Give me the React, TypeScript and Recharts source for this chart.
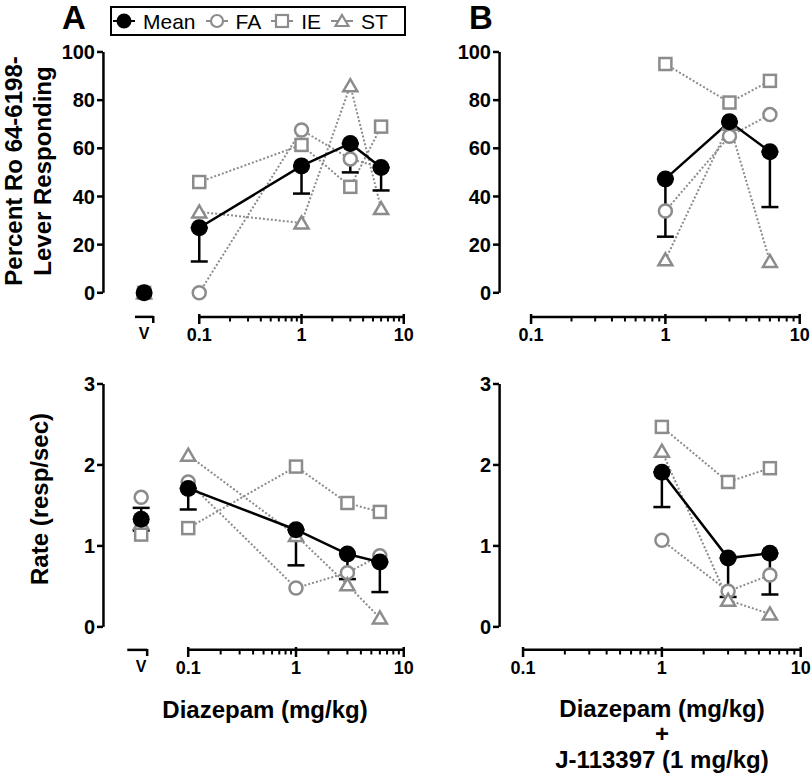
import React from "react";
import { ComposedChart, Line, XAxis, YAxis, ErrorBar, ReferenceLine, Legend, Label } from "recharts";

const FONT = '"Liberation Sans", Arial, Helvetica, sans-serif';
const GREY = "#8c8c8c";
const W = 812;
const H = 777;

// doses (mg/kg)
const dosesA = [0.1, 1, 3, 6];
const dosesB = [1, 3, 6];

// log axis ticks
const majorTicks = [0.1, 1, 10];
const minorTicks = [0.2, 0.3, 0.4, 0.5, 0.6, 0.7, 0.8, 0.9, 2, 3, 4, 5, 6, 7, 8, 9];
const pctTicks = [0, 20, 40, 60, 80, 100];
const rateTicks = [0, 1, 2, 3];

// series order: Mean, FA, IE, ST
const seriesNames = ["Mean", "FA", "IE", "ST"];

// A: % Ro 64-6198-lever responding, diazepam alone
const pctMeanA = [27, 52.7, 62, 52];
const pctSemA = [14, 11.5, 12, 9.5];
const pctFaA = [0, 67.6, 55.6, 52];
const pctIeA = [46, 61.4, 44, 69];
const pctStA = [33.6, 29, 86, 35];
const vehPct = [0, 0, 0, 0]; // Mean, FA, IE, ST

// B: % drug-lever responding, diazepam + J-113397
const pctMeanB = [47.3, 71, 58.6];
const pctSemB = [24, 3, 23];
const pctFaB = [34, 65, 74];
const pctIeB = [95, 79, 88];
const pctStB = [13.7, 70, 13];

// A: response rate (resp/sec)
const rateMeanA = [1.71, 1.2, 0.9, 0.8];
const rateSemA = [0.26, 0.44, 0.31, 0.37];
const rateFaA = [1.79, 0.48, 0.67, 0.88];
const rateIeA = [1.22, 1.98, 1.53, 1.42];
const rateStA = [2.12, 1.13, 0.52, 0.11];
const vehRate = [1.33, 1.6, 1.14, 1.28]; // Mean, FA, IE, ST
const vehRateSem = 0.14;

// B: response rate (resp/sec)
const rateMeanB = [1.91, 0.85, 0.91];
const rateSemB = [0.43, 0.48, 0.51];
const rateFaB = [1.07, 0.44, 0.64];
const rateIeB = [2.47, 1.79, 1.96];
const rateStB = [2.17, 0.33, 0.16];

type Row = Record<string, any>;

function buildRows(
  doses: number[], mean: number[], sem: number[], fa: number[], ie: number[], st: number[],
  veh?: { x: number; vals: number[]; sem: number }
): Row[] {
  const rows: Row[] = [];
  if (veh) {
    rows.push({
      x: veh.x,
      vMean: veh.vals[0],
      vFa: veh.vals[1],
      vIe: veh.vals[2],
      vSt: veh.vals[3],
      vSem: veh.sem ? [veh.sem, veh.sem] : null,
    });
  }
  doses.forEach((d, i) => {
    rows.push({ x: d, mean: mean[i], sem: [sem[i], 0], fa: fa[i], ie: ie[i], st: st[i] });
  });
  return rows;
}

const mkDot = (shape: "mean" | "circle" | "square" | "triangle") => (p: any) => {
  const { cx, cy, index } = p;
  if (cx == null || cy == null || Number.isNaN(cy)) return <g key={`e${index}`} />;
  if (shape === "mean") return <circle key={index} cx={cx} cy={cy} r={8.5} fill="#000" stroke="none" />;
  if (shape === "circle")
    return <circle key={index} cx={cx} cy={cy} r={6.5} fill="#fff" stroke={GREY} strokeWidth={2.5} />;
  if (shape === "square")
    return <rect key={index} x={cx - 6} y={cy - 6} width={12} height={12} fill="#fff" stroke={GREY} strokeWidth={2.5} />;
  return (
    <path key={index} d={`M${cx},${cy - 6.5}L${cx + 7},${cy + 5.5}L${cx - 7},${cy + 5.5}Z`}
      fill="#fff" stroke={GREY} strokeWidth={2.5} strokeLinejoin="miter" />
  );
};

const legendIcon = (name: string) => {
  const col = name === "Mean" ? "#000" : GREY;
  let mark: React.ReactNode;
  if (name === "Mean") mark = <circle cx={11} cy={11} r={7.5} fill="#000" />;
  else if (name === "FA") mark = <circle cx={11} cy={11} r={6} fill="#fff" stroke={GREY} strokeWidth={2.2} />;
  else if (name === "IE") mark = <rect x={5} y={5} width={12} height={12} fill="#fff" stroke={GREY} strokeWidth={2.2} />;
  else mark = <path d="M11,5L17.5,16L4.5,16Z" fill="#fff" stroke={GREY} strokeWidth={2.2} />;
  return (
    <svg width={22} height={22} style={{ display: "block" }}>
      <line x1={0} x2={22} y1={11} y2={11} stroke={col} strokeWidth={2} />
      {mark}
    </svg>
  );
};

const renderLegend = (props: any) => {
  const items = [...(props.payload || [])]
    .filter((it: any) => seriesNames.includes(it.value))
    .sort((a: any, b: any) => seriesNames.indexOf(a.value) - seriesNames.indexOf(b.value));
  return (
    <div
      style={{
        display: "flex", alignItems: "center", boxSizing: "border-box", width: 296, height: 30,
        border: "2.5px solid #000", padding: "0 0 0 1px", fontFamily: FONT, fontSize: 21, color: "#000",
        background: "#fff",
      }}
    >
      {items.map((it: any) => (
        <div key={it.value} style={{ display: "flex", alignItems: "center", marginRight: 10 }}>
          {legendIcon(it.value)}
          <span style={{ marginLeft: 8, lineHeight: 1 }}>{it.value}</span>
        </div>
      ))}
    </div>
  );
};

const titleStyle: React.CSSProperties = { fontFamily: FONT, fontSize: 24, fontWeight: 700, fill: "#000" };

function makeXTick(axisY: number, vehLabel?: number, vehEnd?: number) {
  return (props: any) => {
    const { x, payload } = props;
    const v = payload.value;
    if (vehLabel !== undefined && v === vehLabel)
      return (
        <text x={x} y={axisY + 22} textAnchor="middle" style={{ fontFamily: FONT, fontSize: 16, fontWeight: 700 }}>
          V
        </text>
      );
    if (vehEnd !== undefined && v === vehEnd)
      return <line x1={x} x2={x} y1={axisY - 1} y2={axisY + 6} stroke="#000" strokeWidth={2.5} />;
    const major = majorTicks.includes(v);
    return (
      <g>
        <line x1={x} x2={x} y1={major ? axisY - 3 : axisY} y2={axisY + (major ? 7 : 4.5)} stroke="#000"
          strokeWidth={major ? 2.5 : 2} />
        {major && (
          <text x={x} y={axisY + 24} textAnchor="middle" style={{ fontFamily: FONT, fontSize: 18, fontWeight: 700 }}>
            {String(v)}
          </text>
        )}
      </g>
    );
  };
}

type PanelCfg = {
  rows: Row[];
  plot: { l: number; r: number; t: number; b: number };
  x01: number; // pixel of dose 0.1
  yDomain: [number, number];
  yTicks: number[];
  veh?: { label: number; l: number; r: number };
  legend?: boolean;
  yTitle?: React.ReactNode;
  xTitle: React.ReactNode;
};

const YW = 60;
const XH = 40;

function Panel({ cfg }: { cfg: PanelCfg }) {
  const { plot, x01 } = cfg;
  const decade = (plot.r - x01) / 2;
  const xMin = Math.pow(10, -1 - (x01 - plot.l) / decade);
  const xMax = 10.05;
  const yMin = cfg.yDomain[0];
  const yTop = cfg.yDomain[1];
  const ticks = cfg.veh
    ? [cfg.veh.label, cfg.veh.r, ...majorTicks, ...minorTicks]
    : [...majorTicks, ...minorTicks];
  const dotted = { strokeDasharray: "2 2", strokeWidth: 2, stroke: GREY };
  const axisX = xMin * 1.01;
  return (
    <div style={{ position: "absolute", left: 0, top: 0 }}>
      <ComposedChart
        width={W}
        height={H}
        data={cfg.rows}
        margin={{ left: plot.l - YW, right: W - plot.r - 1, top: plot.t - 4, bottom: H - plot.b - XH - 2 }}
      >
        <XAxis
          dataKey="x"
          type="number"
          scale="log"
          domain={[xMin, xMax]}
          allowDataOverflow
          ticks={ticks}
          interval={0}
          axisLine={false}
          tickLine={false}
          height={XH}
          tick={makeXTick(plot.b, cfg.veh?.label, cfg.veh?.r)}
        >
          <Label content={() => cfg.xTitle} />
        </XAxis>
        <YAxis
          type="number"
          domain={[yMin - (yTop - yMin) * 0.008, yTop + (yTop - yMin) * 0.015]}
          allowDataOverflow
          ticks={cfg.yTicks}
          interval={0}
          width={YW}
          axisLine={false}
          tickSize={6}
          tickMargin={2}
          tickLine={{ stroke: "#000", strokeWidth: 2.5 }}
          tick={{ fill: "#000", fontSize: 20, fontWeight: 700, fontFamily: FONT }}
        >
          {cfg.yTitle ? <Label content={() => cfg.yTitle} /> : null}
        </YAxis>
        <ReferenceLine segment={[{ x: axisX, y: 0 }, { x: axisX, y: yTop }]} stroke="#000" strokeWidth={2.5}
          ifOverflow="visible" />
        <ReferenceLine segment={[{ x: 0.1, y: yMin }, { x: 10, y: yMin }]} stroke="#000" strokeWidth={2.5}
          ifOverflow="visible" />
        {cfg.veh && (
          <ReferenceLine segment={[{ x: cfg.veh.l, y: yMin }, { x: cfg.veh.r, y: yMin }]} stroke="#000"
            strokeWidth={2.5} ifOverflow="visible" />
        )}
        {cfg.legend && (
          <Legend
            layout="horizontal"
            verticalAlign="middle"
            align="center"
            content={renderLegend}
            wrapperStyle={{ left: 110, top: 6, width: 296, height: 30 }}
          />
        )}
        {cfg.veh && (
          <>
            <Line dataKey="vFa" stroke="none" dot={mkDot("circle")} activeDot={false} legendType="none"
              isAnimationActive={false} />
            <Line dataKey="vIe" stroke="none" dot={mkDot("square")} activeDot={false} legendType="none"
              isAnimationActive={false} />
            <Line dataKey="vSt" stroke="none" dot={mkDot("triangle")} activeDot={false} legendType="none"
              isAnimationActive={false} />
            <Line dataKey="vMean" stroke="none" dot={mkDot("mean")} activeDot={false} legendType="none"
              isAnimationActive={false}>
              <ErrorBar dataKey="vSem" width={8.5} stroke="#000" strokeWidth={2.5} direction="y" />
            </Line>
          </>
        )}
        <Line name="FA" dataKey="fa" {...dotted} dot={mkDot("circle")} activeDot={false} isAnimationActive={false} />
        <Line name="IE" dataKey="ie" {...dotted} dot={mkDot("square")} activeDot={false} isAnimationActive={false} />
        <Line name="ST" dataKey="st" {...dotted} dot={mkDot("triangle")} activeDot={false} isAnimationActive={false} />
        <Line name="Mean" dataKey="mean" stroke="#000" strokeWidth={2.5} dot={mkDot("mean")} activeDot={false}
          isAnimationActive={false}>
          <ErrorBar dataKey="sem" width={8.5} stroke="#000" strokeWidth={2.5} direction="y" />
        </Line>
      </ComposedChart>
    </div>
  );
}

const panels: PanelCfg[] = [
  {
    rows: buildRows(dosesA, pctMeanA, pctSemA, pctFaA, pctIeA, pctStA, { x: 0.0289, vals: vehPct, sem: 0 }),
    plot: { l: 103, r: 403, t: 52, b: 317 },
    x01: 199,
    yDomain: [-10, 100],
    yTicks: pctTicks,
    veh: { label: 0.0289, l: 0.0235, r: 0.0355 },
    legend: true,
    yTitle: (
      <text transform="translate(22,171) rotate(-90)" textAnchor="middle" style={titleStyle}>
        <tspan x={0} y={0}>Percent Ro 64-6198-</tspan>
        <tspan x={0} y={29}>Lever Responding</tspan>
      </text>
    ),
    xTitle: null,
  },
  {
    rows: buildRows(dosesB, pctMeanB, pctSemB, pctFaB, pctIeB, pctStB),
    plot: { l: 499, r: 799, t: 52, b: 317 },
    x01: 531,
    yDomain: [-10, 100],
    yTicks: pctTicks,
    xTitle: null,
  },
  {
    rows: buildRows(dosesA, rateMeanA, rateSemA, rateFaA, rateIeA, rateStA, { x: 0.0366, vals: vehRate, sem: vehRateSem }),
    plot: { l: 103, r: 403, t: 384, b: 650 },
    x01: 188,
    yDomain: [-0.284, 3],
    yTicks: rateTicks,
    veh: { label: 0.0366, l: 0.0272, r: 0.0416 },
    yTitle: (
      <text transform="translate(48,499) rotate(-90)" textAnchor="middle" style={titleStyle}>
        Rate (resp/sec)
      </text>
    ),
    xTitle: (
      <text x={265} y={718} textAnchor="middle" style={titleStyle}>
        Diazepam (mg/kg)
      </text>
    ),
  },
  {
    rows: buildRows(dosesB, rateMeanB, rateSemB, rateFaB, rateIeB, rateStB),
    plot: { l: 499, r: 800, t: 384, b: 650 },
    x01: 523,
    yDomain: [-0.284, 3],
    yTicks: rateTicks,
    xTitle: (
      <text textAnchor="middle" style={titleStyle}>
        <tspan x={662} y={717}>Diazepam (mg/kg)</tspan>
        <tspan x={662} y={742}>+</tspan>
        <tspan x={662} y={768}>J-113397 (1 mg/kg)</tspan>
      </text>
    ),
  },
];

export default function App() {
  return (
    <div style={{ position: "absolute", left: 0, top: 0, width: W, height: H, background: "#fff", fontFamily: FONT }}>
      {panels.map((p, i) => (
        <Panel key={i} cfg={p} />
      ))}
      <div style={{ position: "absolute", left: 62, top: 1, fontSize: 33, fontWeight: 700, lineHeight: 1 }}>A</div>
      <div style={{ position: "absolute", left: 469, top: 1, fontSize: 33, fontWeight: 700, lineHeight: 1 }}>B</div>
    </div>
  );
}
